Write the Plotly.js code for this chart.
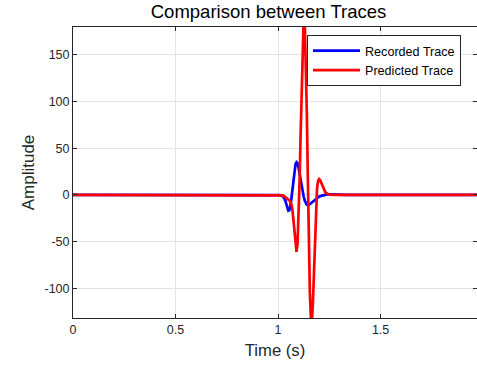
<!DOCTYPE html>
<html>
<head>
<meta charset="utf-8">
<script src="https://cdn.plot.ly/plotly-3.0.1.min.js"></script>
<style>html,body{margin:0;padding:0;background:#fff;}#chart{width:477px;height:366px;}</style>
</head>
<body>
<div id="chart"></div>
<script>
// Recorded trace (blue)
var recordedTime = [0, 1.000, 1.010, 1.020, 1.025, 1.030, 1.035, 1.040, 1.045, 1.050, 1.055, 1.060, 1.065, 1.070, 1.075, 1.080, 1.085, 1.090, 1.095, 1.100, 1.105, 1.110, 1.115, 1.120, 1.125, 1.130, 1.135, 1.140, 1.145, 1.150, 1.155, 1.160, 1.170, 1.180, 1.190, 1.200, 1.210, 1.220, 1.230, 1.240, 1.260, 1.290, 1.330, 1.97];
var recordedAmp  = [0, 0, -0.3, -1, -2, -3.5, -6, -10, -14, -17, -16.5, -12, -4, 6, 17, 27, 33, 35, 34, 29, 22, 14, 7, 2, -2, -6, -9, -10.5, -11, -10.8, -10, -9, -7, -5, -3.3, -2, -1, -0.3, 0.2, 0.5, 0.6, 0.4, 0, 0];

// Predicted trace (red)
var predictedTime = [0, 1.000, 1.010, 1.020, 1.030, 1.040, 1.050, 1.055, 1.060, 1.065, 1.070, 1.075, 1.080, 1.085, 1.090, 1.095, 1.100, 1.105, 1.110, 1.115, 1.120, 1.125, 1.130, 1.135, 1.140, 1.145, 1.150, 1.155, 1.160, 1.165, 1.170, 1.175, 1.180, 1.185, 1.190, 1.195, 1.200, 1.205, 1.210, 1.215, 1.220, 1.225, 1.230, 1.240, 1.250, 1.270, 1.300, 1.97];
var predictedAmp  = [0, 0, 0, -0.5, -1.5, -3, -5, -6, -7.5, -10, -16, -28, -44, -57, -61, -52, -25, 15, 65, 120, 165, 190, 185, 150, 90, 20, -50, -105, -132, -135, -115, -80, -42, -10, 7, 15, 17, 16, 13, 10, 7, 4.5, 3, 1.2, 0.4, 0.1, 0, 0];

var seriesNames = ["Recorded Trace", "Predicted Trace"];
var xTicks = [0, 0.5, 1, 1.5];
var xTickText = ["0", "0.5", "1", "1.5"];
var yTicks = [-100, -50, 0, 50, 100, 150];
var yTickText = ["-100", "-50", "0", "50", "100", "150"];

var font = "'Liberation Sans', Arial, Helvetica, sans-serif";
var axisColor = "#262626";

var traces = [
  {x: recordedTime, y: recordedAmp, type: "scatter", mode: "lines", name: seriesNames[0],
   line: {color: "#0000ff", width: 2.7}},
  {x: predictedTime, y: predictedAmp, type: "scatter", mode: "lines", name: seriesNames[1],
   line: {color: "#ff0000", width: 2.7}}
];

var layout = {
  width: 477, height: 366,
  margin: {l: 73, r: 0, t: 27, b: 48, pad: 0},
  paper_bgcolor: "#ffffff", plot_bgcolor: "#ffffff",
  font: {family: font, size: 12, color: axisColor},
  title: {text: "Comparison between Traces", font: {family: font, size: 18.5, color: "#000000"},
          x: 268.5/477, xanchor: "center", xref: "container", y: 1 - 12/366, yanchor: "middle", yref: "container"},
  xaxis: {range: [0, 1.97], tickvals: xTicks, ticktext: xTickText, ticks: "inside", ticklen: 4,
          tickcolor: axisColor, showline: true, linecolor: axisColor, linewidth: 1, mirror: "ticks",
          showgrid: true, gridcolor: "#e3e3e3", gridwidth: 1, zeroline: false,
          tickfont: {family: font, size: 12.5, color: axisColor},
          title: {text: "Time (s)", font: {family: font, size: 16.7, color: axisColor}, standoff: 8}},
  yaxis: {range: [-132, 180], tickvals: yTicks, ticktext: yTickText, ticks: "inside", ticklen: 4,
          tickcolor: axisColor, showline: true, linecolor: axisColor, linewidth: 1, mirror: "ticks",
          showgrid: true, gridcolor: "#e3e3e3", gridwidth: 1, zeroline: false,
          tickfont: {family: font, size: 12.5, color: axisColor},
          title: {text: "Amplitude", font: {family: font, size: 17, color: axisColor}, standoff: 5}},
  showlegend: true,
  legend: {x: (461-73)/404, xanchor: "right", y: (318-35)/291, yanchor: "top",
           bgcolor: "#ffffff", bordercolor: axisColor, borderwidth: 1, itemwidth: 47,
           font: {family: font, size: 12.6, color: "#000000"}, tracegroupgap: 0}
};

Plotly.newPlot("chart", traces, layout, {staticPlot: true, displayModeBar: false});
</script>
</body>
</html>
